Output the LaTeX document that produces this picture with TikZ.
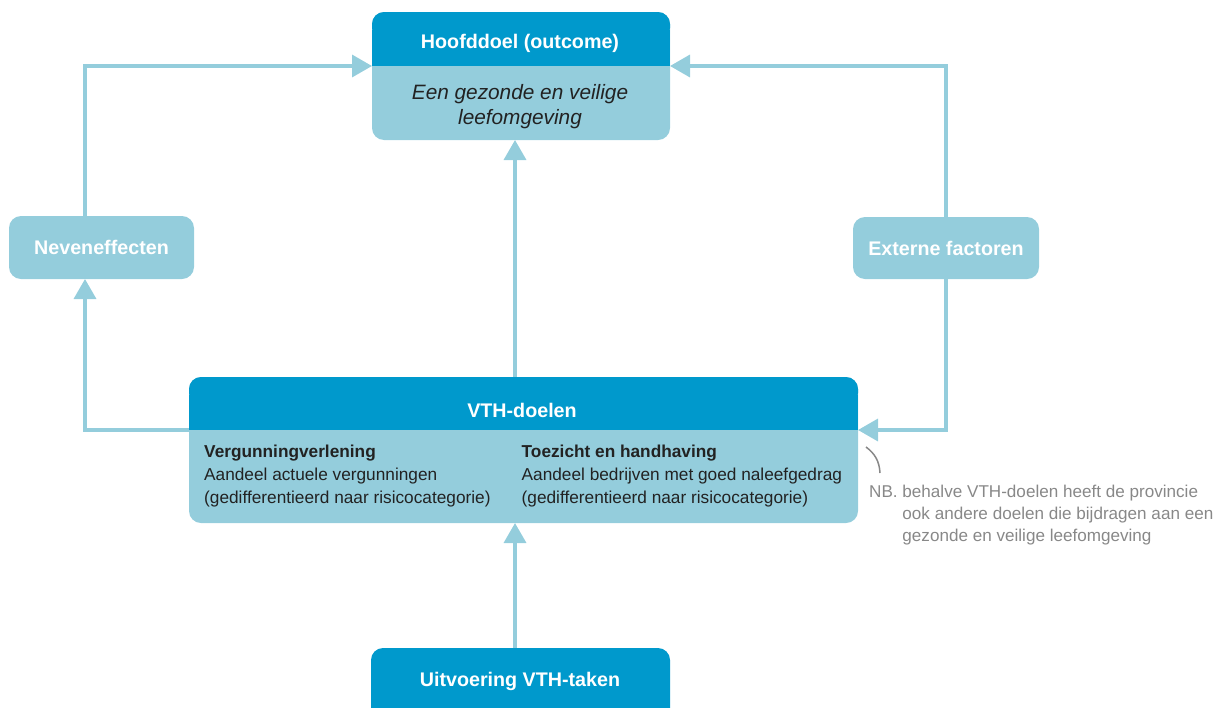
\documentclass[tikz,border=0pt]{standalone}
\usepackage{fontspec}
\setmainfont{Liberation Sans}
\usetikzlibrary{arrows.meta}
\definecolor{dblue}{HTML}{0099CC}
\definecolor{lblue}{HTML}{94CDDC}
\definecolor{nbgray}{HTML}{888888}
\definecolor{bodytext}{HTML}{222222}
\begin{document}
\begin{tikzpicture}[x=1pt,y=-1pt,
  conn/.style={draw=lblue,line width=3.5pt,-{Triangle[width=22pt,length=20pt]}},
  sidebox/.style={text=white,font=\bfseries\fontsize{19.7}{22}\selectfont},
  head/.style={text=white,font=\bfseries\fontsize{19.7}{22}\selectfont},
  body/.style={font=\fontsize{17.25}{23}\selectfont,text=bodytext,align=left,anchor=north west,inner sep=0pt}]
\useasboundingbox (0,0) rectangle (1217,707);
\clip (0,0) rectangle (1217,707);
% Hoofddoel
\fill[lblue,rounded corners=12pt] (372,12) rectangle (670,140);
\fill[dblue,rounded corners=12pt] (372,12) rectangle (670,40);
\fill[dblue] (372,30) rectangle (670,66);
\node[head] (hoofd) at (520,43) {Hoofddoel (outcome)};
\node[font=\itshape\fontsize{20.8}{25}\selectfont,text=bodytext,align=center] (een) at (520,107) {Een gezonde en veilige\\leefomgeving};
\coordinate (hL) at (372,66); \coordinate (hR) at (670,66); \coordinate (hB) at (515,140);
% side boxes
\fill[lblue,rounded corners=12pt] (9,216) rectangle (194,279);
\node[sidebox] (neven) at (101.5,247.5) {Neveneffecten};
\fill[lblue,rounded corners=12pt] (853,217) rectangle (1039,279);
\node[sidebox] (extern) at (946,248) {Externe factoren};
% VTH-doelen
\fill[lblue,rounded corners=12pt] (189,377) rectangle (858,523);
\fill[dblue,rounded corners=12pt] (189,377) rectangle (858,405);
\fill[dblue] (189,395) rectangle (858,430);
\node[head] (vth) at (522,410) {VTH-doelen};
\node[body] (verg) at (204,445) {\textbf{Vergunningverlening}\\Aandeel actuele vergunningen\\(gedifferentieerd naar risicocategorie)};
\node[body] (toez) at (521.5,445) {\textbf{Toezicht en handhaving}\\Aandeel bedrijven met goed naleefgedrag\\(gedifferentieerd naar risicocategorie)};
% Uitvoering
\fill[dblue,rounded corners=12pt] (371,648) rectangle (670,730);
\node[head] (uitv) at (520,681) {Uitvoering VTH-taken};
% connectors
\draw[conn] (515,648) -- (515,523);
\draw[conn] (515,377) -- (hB);
\draw[conn] (189,430) -- (85,430) -- (85,279);
\draw[conn] (85,216) -- (85,66) -- (hL);
\draw[conn] (946,217) -- (946,66) -- (hR);
\draw[conn] (946,279) -- (946,430) -- (858,430);
% NB
\draw[nbgray,line width=1.5pt] (866,447) to[bend left=25] (880,473);
\node[font=\fontsize{17.1}{21.8}\selectfont,text=nbgray,align=left,anchor=north west,inner sep=0pt] (nb) at (869,485) {NB. behalve VTH-doelen heeft de provincie\\\hphantom{NB. }ook andere doelen die bijdragen aan een\\\hphantom{NB. }gezonde en veilige leefomgeving};
\end{tikzpicture}
\end{document}
